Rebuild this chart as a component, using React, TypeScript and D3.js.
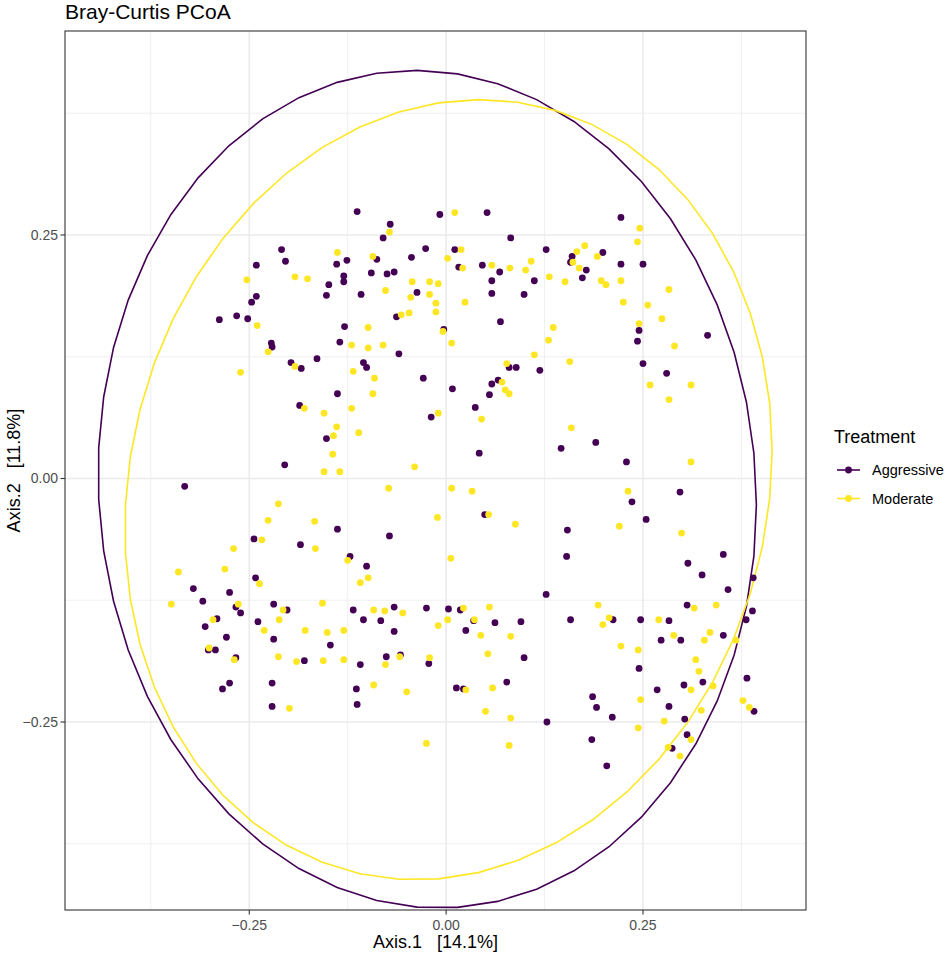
import * as d3 from "d3";
import { useMemo } from "react";

const WIDTH = 945;
const HEIGHT = 955;
// panel box in pixels
const PANEL = { left: 65, right: 806, top: 31, bottom: 910 };

const X_DOMAIN = [-0.484, 0.457];
const Y_DOMAIN = [-0.443, 0.4594];
const MAJOR_TICKS = [-0.25, 0, 0.25];
const MINOR_TICKS = [-0.375, -0.125, 0.125, 0.375];

const GROUPS = ["Aggressive", "Moderate"];
const COLORS = ["#440154", "#FDE725"];

// Axis.1 / Axis.2 scores, Aggressive
const aggX = [
  -0.113, -0.008, -0.071, -0.08, -0.209, -0.204, -0.241, -0.139, -0.126, -0.088,
  -0.044, -0.026, 0.011, 0.016, -0.13, -0.13, -0.095, -0.075, -0.066, -0.149,
  -0.152, -0.108, -0.037, -0.241, -0.247, -0.288, -0.266, -0.252, -0.063, -0.129,
  -0.003, -0.135, -0.222, -0.221, 0.052, 0.222, 0.082, 0.127, 0.199, 0.16,
  0.158, 0.046, 0.068, 0.058, 0.112, 0.178, 0.173, 0.222, 0.25, 0.058,
  0.099, 0.069, 0.245, 0.243, 0.332, -0.197, -0.184, -0.164, -0.105, -0.101,
  -0.06, -0.029, 0.008, -0.138, -0.186, -0.019, -0.152, -0.205, -0.332, -0.138,
  -0.072, -0.244, 0.08, 0.089, 0.119, 0.25, 0.28, 0.058, 0.066, 0.055,
  0.037, 0.042, 0.146, 0.19, 0.229, 0.297, 0.236, 0.254, 0.049, 0.154,
  -0.185, -0.122, -0.101, -0.242, -0.321, -0.275, -0.309, -0.267, -0.261, -0.291,
  -0.306, -0.239, -0.279, -0.219, -0.202, -0.219, -0.18, -0.302, -0.293, -0.267,
  -0.275, -0.284, -0.221, -0.221, -0.147, -0.118, -0.105, -0.083, -0.066, -0.066,
  -0.109, -0.076, -0.058, -0.114, -0.113, -0.022, -0.025, 0.003, 0.018, 0.035,
  0.062, 0.025, 0.013, 0.022, 0.077, 0.095, 0.099, 0.127, 0.128, 0.153,
  0.158, 0.212, 0.247, 0.283, 0.298, 0.306, 0.273, 0.358, 0.352, 0.381,
  0.389, 0.39, 0.352, 0.325, 0.307, 0.302, 0.326, 0.382, 0.391, 0.268,
  0.283, 0.303, 0.306, 0.287, 0.186, 0.191, 0.211, 0.185, 0.204, 0.245,
];
const aggY = [
  0.274, 0.271, 0.261, 0.247, 0.235, 0.223, 0.219, 0.22, 0.224, 0.225,
  0.227, 0.236, 0.235, 0.217, 0.208, 0.202, 0.211, 0.21, 0.212, 0.199,
  0.188, 0.189, 0.191, 0.187, 0.181, 0.163, 0.167, 0.164, 0.166, 0.156,
  0.153, 0.14, 0.139, 0.135, 0.273, 0.268, 0.247, 0.235, 0.232, 0.228,
  0.222, 0.219, 0.212, 0.203, 0.203, 0.214, 0.206, 0.22, 0.22, 0.19,
  0.189, 0.161, 0.152, 0.141, 0.147, 0.119, 0.113, 0.123, 0.119, 0.114,
  0.128, 0.103, 0.092, 0.087, 0.075, 0.063, 0.041, 0.014, -0.008, -0.052,
  -0.059, -0.062, 0.114, 0.114, 0.111, 0.118, 0.108, 0.097, 0.101, 0.086,
  0.073, 0.026, 0.031, 0.037, 0.017, -0.014, -0.024, -0.042, -0.037, -0.053,
  -0.068, -0.08, -0.09, -0.102, -0.113, -0.117, -0.126, -0.132, -0.138, -0.144,
  -0.152, -0.147, -0.163, -0.129, -0.135, -0.165, -0.187, -0.176, -0.176, -0.184,
  -0.21, -0.216, -0.21, -0.234, -0.171, -0.135, -0.145, -0.146, -0.132, -0.157,
  -0.191, -0.183, -0.181, -0.216, -0.232, -0.19, -0.133, -0.134, -0.135, -0.146,
  -0.148, -0.156, -0.215, -0.216, -0.209, -0.147, -0.184, -0.119, -0.25, -0.08,
  -0.145, -0.145, -0.145, -0.146, -0.166, -0.13, -0.166, -0.114, -0.161, -0.145,
  -0.136, -0.102, -0.078, -0.099, -0.087, -0.212, -0.209, -0.205, -0.239, -0.217,
  -0.234, -0.247, -0.263, -0.277, -0.224, -0.235, -0.245, -0.268, -0.295, -0.195,
];

// Axis.1 / Axis.2 scores, Moderate
const modX = [
  0.011, -0.072, -0.138, -0.093, 0.002, -0.253, -0.192, -0.176, -0.077, -0.043,
  -0.021, -0.01, -0.045, -0.021, -0.013, -0.013, -0.057, -0.047, -0.24, -0.099,
  -0.004, -0.12, -0.099, -0.08, 0.007, 0.246, 0.243, 0.019, 0.021, 0.058,
  0.081, 0.108, 0.101, 0.166, 0.176, 0.192, 0.161, 0.169, 0.131, 0.151,
  0.197, 0.203, 0.222, 0.024, 0.225, 0.256, 0.283, 0.274, 0.245, 0.136,
  0.13, 0.29, -0.226, -0.192, -0.261, -0.118, -0.091, -0.093, -0.18, -0.155,
  -0.12, -0.139, -0.143, -0.111, -0.01, -0.144, -0.155, -0.135, -0.04, -0.073,
  0.007, -0.213, -0.226, -0.167, -0.011, -0.234, 0.112, 0.157, 0.077, 0.071,
  0.075, 0.08, 0.045, 0.259, 0.311, 0.283, 0.159, 0.311, 0.033, 0.231,
  0.054, 0.088, 0.22, 0.299,
  -0.27, -0.166, -0.125, -0.34, -0.349, -0.281, -0.296, -0.264, -0.301, -0.269,
  -0.237, -0.231, -0.207, -0.212, -0.179, -0.213, -0.19, -0.199, -0.157, -0.151,
  -0.109, -0.092, -0.099, -0.13, -0.078, -0.055, -0.156, -0.13, -0.077, -0.059,
  -0.092, -0.05, -0.021, -0.025, -0.01, 0.002, 0.006, 0.022, 0.036, 0.055,
  0.044, 0.053, 0.025, 0.059, 0.05, 0.082, 0.08, 0.082, 0.193, 0.207,
  0.222, 0.27, 0.289, 0.315, 0.335, 0.328, 0.317, 0.343, 0.368, 0.321,
  0.311, 0.339, 0.377, 0.385, 0.324, 0.277, 0.311, 0.282, 0.297, 0.244,
  0.247, 0.244, 0.199,
];
const modY = [
  0.273, 0.253, 0.232, 0.228, 0.226, 0.204, 0.207, 0.205, 0.193, 0.202,
  0.202, 0.2, 0.186, 0.189, 0.18, 0.171, 0.168, 0.17, 0.157, 0.155,
  0.151, 0.137, 0.134, 0.137, 0.139, 0.257, 0.243, 0.235, 0.216, 0.219,
  0.216, 0.223, 0.214, 0.233, 0.239, 0.228, 0.222, 0.216, 0.207, 0.202,
  0.203, 0.199, 0.203, 0.181, 0.181, 0.178, 0.194, 0.164, 0.159, 0.155,
  0.142, 0.136, 0.13, 0.115, 0.109, 0.11, 0.103, 0.087, 0.072, 0.067,
  0.072, 0.053, 0.044, 0.047, 0.067, 0.025, 0.007, 0.007, 0.012, -0.01,
  -0.01, -0.026, -0.043, -0.044, -0.04, -0.063, 0.127, 0.12, 0.118, 0.099,
  0.091, 0.087, 0.061, 0.096, 0.096, 0.081, 0.052, 0.017, -0.013, -0.013,
  -0.037, -0.047, -0.049, -0.056,
  -0.072, -0.072, -0.084, -0.096, -0.129, -0.093, -0.145, -0.129, -0.174, -0.186,
  -0.108, -0.156, -0.135, -0.145, -0.156, -0.183, -0.188, -0.236, -0.128, -0.158,
  -0.107, -0.135, -0.102, -0.156, -0.136, -0.138, -0.187, -0.186, -0.191, -0.183,
  -0.212, -0.219, -0.184, -0.272, -0.151, -0.145, -0.082, -0.133, -0.145, -0.132,
  -0.161, -0.18, -0.217, -0.215, -0.239, -0.246, -0.274, -0.162, -0.13, -0.143,
  -0.172, -0.145, -0.161, -0.133, -0.158, -0.166, -0.186, -0.13, -0.166, -0.198,
  -0.217, -0.213, -0.228, -0.235, -0.238, -0.249, -0.268, -0.276, -0.285, -0.256,
  -0.227, -0.176, -0.15,
];

// stat_ellipse outlines: centre, x radius, y radius, x-y coupling
const ellCx = [-0.024, 0.003];
const ellCy = [-0.011, -0.0115];
const ellRx = [0.418, 0.411];
const ellRy = [0.43, 0.4005];
const ellSkew = [-0.016, 0.04];

const FONT = "'Liberation Sans', Arial, Helvetica, sans-serif";

function App() {
  const xScale = useMemo(
    () => d3.scaleLinear().domain(X_DOMAIN).range([PANEL.left, PANEL.right]),
    []
  );
  const yScale = useMemo(
    () => d3.scaleLinear().domain(Y_DOMAIN).range([PANEL.bottom, PANEL.top]),
    []
  );

  const series = [
    { xs: aggX, ys: aggY },
    { xs: modX, ys: modY },
  ];

  const line = d3
    .line<[number, number]>()
    .x((d) => xScale(d[0]))
    .y((d) => yScale(d[1]));

  const ellipses = GROUPS.map((g, gi) => {
    const r22 = Math.sqrt(ellRy[gi] ** 2 - ellSkew[gi] ** 2);
    const pts: [number, number][] = d3.range(52).map((i) => {
      const t = (i / 51) * 2 * Math.PI;
      return [
        ellCx[gi] + ellRx[gi] * Math.cos(t),
        ellCy[gi] + ellSkew[gi] * Math.cos(t) + r22 * Math.sin(t),
      ];
    });
    return (
      <path
        key={g}
        d={line(pts) + "Z"}
        fill="none"
        stroke={COLORS[gi]}
        strokeWidth={1.6}
      />
    );
  });

  const gridMinor = MINOR_TICKS.map((t) => (
    <g key={"m" + t}>
      <line x1={xScale(t)} x2={xScale(t)} y1={PANEL.top} y2={PANEL.bottom} stroke="#EBEBEB" strokeWidth={0.8} />
      <line y1={yScale(t)} y2={yScale(t)} x1={PANEL.left} x2={PANEL.right} stroke="#EBEBEB" strokeWidth={0.8} />
    </g>
  ));
  const gridMajor = MAJOR_TICKS.map((t) => (
    <g key={"M" + t}>
      <line x1={xScale(t)} x2={xScale(t)} y1={PANEL.top} y2={PANEL.bottom} stroke="#EBEBEB" strokeWidth={1.6} />
      <line y1={yScale(t)} y2={yScale(t)} x1={PANEL.left} x2={PANEL.right} stroke="#EBEBEB" strokeWidth={1.6} />
    </g>
  ));

  const fmt = d3.format(".2f");

  const xTicks = MAJOR_TICKS.map((t) => (
    <g key={"xt" + t}>
      <line x1={xScale(t)} x2={xScale(t)} y1={PANEL.bottom} y2={PANEL.bottom + 4.5} stroke="#333333" strokeWidth={1.1} />
      <text x={xScale(t)} y={PANEL.bottom + 20} textAnchor="middle" fontSize={14} fill="#4D4D4D">
        {fmt(t)}
      </text>
    </g>
  ));
  const yTicks = MAJOR_TICKS.map((t) => (
    <g key={"yt" + t}>
      <line x1={PANEL.left - 4.5} x2={PANEL.left} y1={yScale(t)} y2={yScale(t)} stroke="#333333" strokeWidth={1.1} />
      <text x={PANEL.left - 7} y={yScale(t)} textAnchor="end" dominantBaseline="central" fontSize={14} fill="#4D4D4D">
        {fmt(t)}
      </text>
    </g>
  ));

  const points = series.map((s, gi) =>
    s.xs.map((x, i) => (
      <circle key={gi + "-" + i} cx={xScale(x)} cy={yScale(s.ys[i])} r={3.4} fill={COLORS[gi]} />
    ))
  );

  const legend = (
    <g transform="translate(834,0)">
      <text x={0} y={443} fontSize={18} fill="#000">
        Treatment
      </text>
      {GROUPS.map((g, gi) => {
        const y = 470 + gi * 28.5;
        return (
          <g key={g}>
            <line x1={3} x2={26} y1={y} y2={y} stroke={COLORS[gi]} strokeWidth={1.6} />
            <circle cx={14.5} cy={y} r={3.4} fill={COLORS[gi]} />
            <text x={38} y={y} dominantBaseline="central" fontSize={14.5} fill="#000">
              {g}
            </text>
          </g>
        );
      })}
    </g>
  );

  return (
    <svg
      width={WIDTH}
      height={HEIGHT}
      style={{ position: "absolute", left: 0, top: 0, background: "#fff" }}
      fontFamily={FONT}
    >
      <rect width={WIDTH} height={HEIGHT} fill="#fff" />
      <text x={PANEL.left} y={19} fontSize={21} fill="#000">
        Bray-Curtis PCoA
      </text>
      {gridMinor}
      {gridMajor}
      {ellipses}
      {points}
      <rect
        x={PANEL.left}
        y={PANEL.top}
        width={PANEL.right - PANEL.left}
        height={PANEL.bottom - PANEL.top}
        fill="none"
        stroke="#333333"
        strokeWidth={1.1}
      />
      {xTicks}
      {yTicks}
      <text x={(PANEL.left + PANEL.right) / 2} y={948} textAnchor="middle" fontSize={18} fill="#000">
        Axis.1{"\u00a0\u00a0\u00a0"}[14.1%]
      </text>
      <text
        transform={`translate(20,${(PANEL.top + PANEL.bottom) / 2}) rotate(-90)`}
        textAnchor="middle"
        fontSize={18}
        fill="#000"
      >
        Axis.2{"\u00a0\u00a0\u00a0"}[11.8%]
      </text>
      {legend}
    </svg>
  );
}

export default App;
